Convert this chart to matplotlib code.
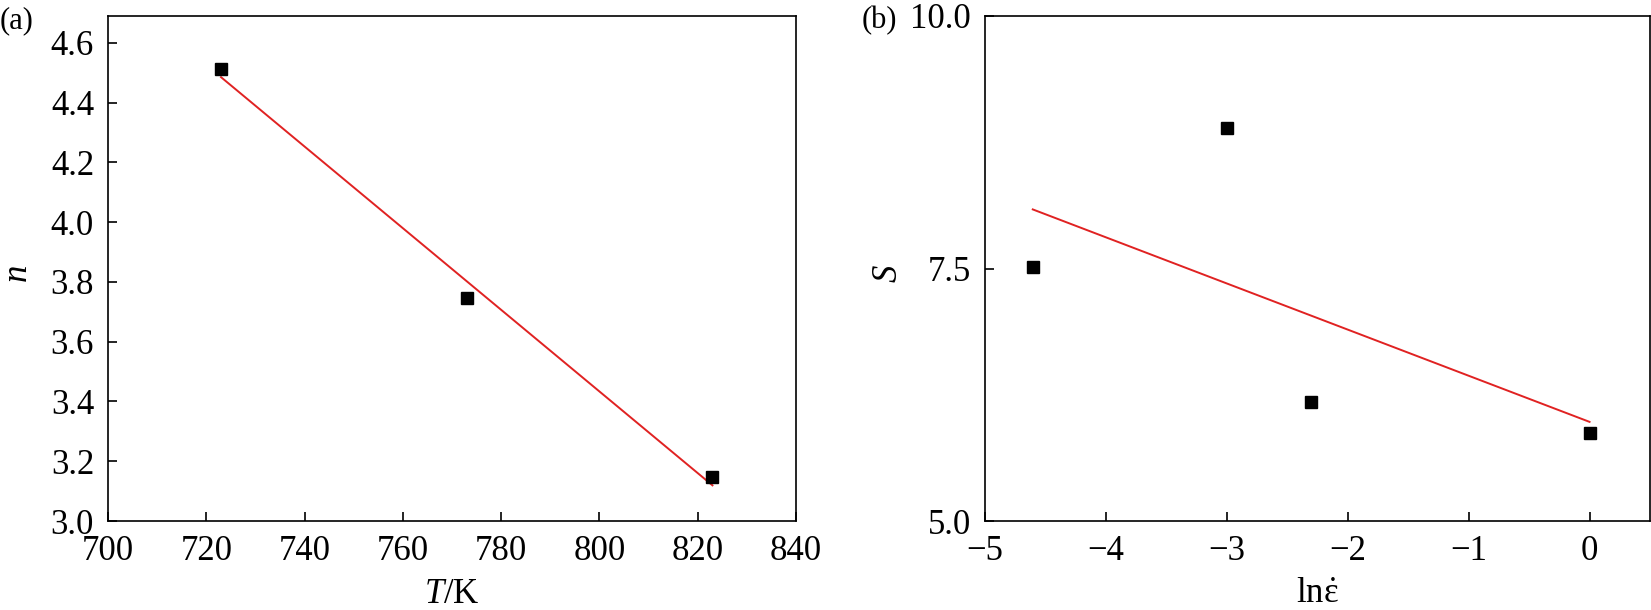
import numpy as np
import matplotlib
matplotlib.use("Agg")
import matplotlib.pyplot as plt

# ========== 数据 ==========
# (a) 应力指数 n 与温度 T
T_K = [723, 773, 823]
n_vals = [4.513, 3.747, 3.147]

# (b) S 与 ln(应变速率)
ln_rate = [-4.605, -2.996, -2.303, 0.0]
S_vals = [7.51, 8.89, 6.18, 5.87]

# ========== 样式 ==========
plt.rcParams["font.family"] = ["Liberation Serif", "DejaVu Serif"]
plt.rcParams["mathtext.fontset"] = "custom"
plt.rcParams["mathtext.rm"] = "Liberation Serif"
plt.rcParams["mathtext.it"] = "Liberation Serif:italic"
plt.rcParams["font.size"] = 25

LINE_RED = "#e02222"
W, H = 1651, 610


def style_axes(ax):
    for sp in ax.spines.values():
        sp.set_linewidth(1.2)
    ax.tick_params(direction="in", length=6.5, width=1.2, labelsize=25)
    ax.tick_params(axis="x", pad=10)
    ax.tick_params(axis="y", pad=10)
    ax.tick_params(top=False, right=False)


def fit_line(x, y):
    k, b = np.polyfit(x, y, 1)
    xs = np.array([min(x), max(x)])
    return xs, k * xs + b


fig = plt.figure(figsize=(W / 100, H / 100), dpi=100)

# ---- (a) ----
ax1 = fig.add_axes([108 / W, 1 - 521 / H, (796 - 108) / W, (521 - 16) / H])
xs, ys = fit_line(T_K, n_vals)
ax1.plot(xs, ys, color=LINE_RED, lw=1.4, zorder=2)
ax1.plot(T_K, n_vals, "s", color="black", ms=8, zorder=3)
ax1.set_xlim(700, 840)
ax1.set_ylim(3.0, 4.69)
ax1.set_xticks(np.arange(700, 841, 20))
ax1.set_yticks(np.arange(3.0, 4.61, 0.2))
ax1.yaxis.set_major_formatter(matplotlib.ticker.FormatStrFormatter("%.1f"))
ax1.set_xlabel(r"$T$/K", fontsize=25)
ax1.set_ylabel(r"$n$", fontsize=25)
ax1.yaxis.set_label_coords(-0.106, 0.49)
ax1.xaxis.set_label_coords(0.5, -0.112)
style_axes(ax1)

# ---- (b) ----
ax2 = fig.add_axes([985 / W, 1 - 521 / H, (1650 - 985) / W, (521 - 16) / H])
xs, ys = fit_line(ln_rate, S_vals)
ax2.plot(xs, ys, color=LINE_RED, lw=1.4, zorder=2)
ax2.plot(ln_rate, S_vals, "s", color="black", ms=8, zorder=3)
ax2.set_xlim(-5, 0.5)
ax2.set_ylim(5.0, 10.0)
ax2.set_xticks([-5, -4, -3, -2, -1, 0])
ax2.set_yticks([5.0, 7.5, 10.0])
ax2.yaxis.set_major_formatter(matplotlib.ticker.FormatStrFormatter("%.1f"))
ax2.set_xlabel(r"$\mathrm{ln}\dot{\mathrm{\varepsilon}}$", fontsize=25)
ax2.set_ylabel(r"$S$", fontsize=25)
ax2.yaxis.set_label_coords(-0.12, 0.49)
ax2.xaxis.set_label_coords(0.5, -0.112)
style_axes(ax2)

fig.text(0.0, 0.99, "(a)", fontsize=22, ha="left", va="top")
fig.text(862 / W, 0.99, "(b)", fontsize=22, ha="left", va="top")

fig.savefig("out.png", dpi=100)
